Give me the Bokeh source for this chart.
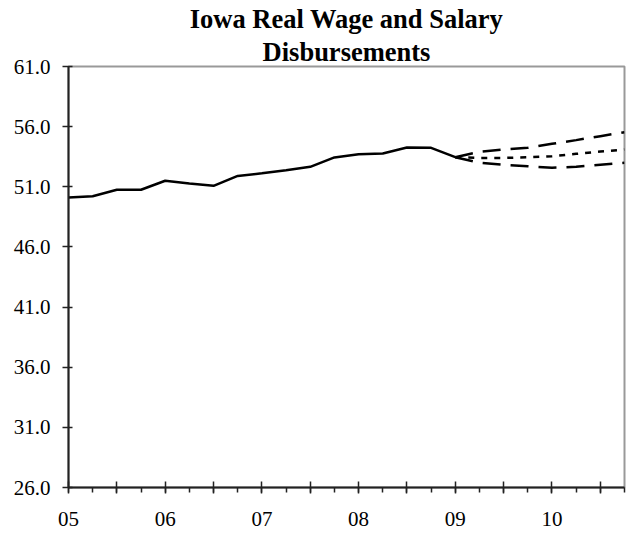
from bokeh.plotting import figure
from bokeh.models import Range1d, FixedTicker, CustomJSTickFormatter, PrintfTickFormatter, Title
from bokeh.embed import file_html
from bokeh.resources import INLINE

# Historical quarters (fractional years) and values
hist_t = [2005.00, 2005.25, 2005.50, 2005.75, 2006.00, 2006.25, 2006.50, 2006.75,
          2007.00, 2007.25, 2007.50, 2007.75, 2008.00, 2008.25, 2008.50, 2008.75, 2009.00]
hist_v = [50.10, 50.22, 50.75, 50.75, 51.50, 51.27, 51.08, 51.90,
          52.12, 52.38, 52.66, 53.44, 53.71, 53.77, 54.27, 54.24, 53.46]

# Forecast quarters and scenarios
fc_t = [2009.00, 2009.25, 2009.50, 2009.75, 2010.00, 2010.25, 2010.50, 2010.75]
fc_high = [53.46, 53.91, 54.10, 54.24, 54.57, 54.88, 55.21, 55.54]
fc_base = [53.46, 53.40, 53.40, 53.46, 53.54, 53.74, 53.93, 54.10]
fc_low = [53.46, 53.00, 52.83, 52.71, 52.58, 52.66, 52.83, 53.00]

y_ticks = [26, 31, 36, 41, 46, 51, 56, 61]
x_major = [2005.0, 2005.5, 2006.0, 2006.5, 2007.0, 2007.5, 2008.0, 2008.5,
           2009.0, 2009.5, 2010.0, 2010.5]
x_minor = [2005.0, 2005.25, 2005.5, 2005.75, 2006.0, 2006.25, 2006.5, 2006.75,
           2007.0, 2007.25, 2007.5, 2007.75, 2008.0, 2008.25, 2008.5, 2008.75,
           2009.0, 2009.25, 2009.5, 2009.75, 2010.0, 2010.25, 2010.5, 2010.75]

title_lines = ["Iowa Real Wage and Salary", "Disbursements"]

SERIF = "Liberation Serif"

p = figure(frame_width=556, frame_height=421, title=None,
           x_range=Range1d(2005.0, 2010.75), y_range=Range1d(26, 61),
           output_backend="svg", toolbar_location=None,
           min_border_left=68, min_border_right=9, min_border_top=40, min_border_bottom=48,
           background_fill_color="white", border_fill_color="white")

# add the lower title line first, then the upper one (stacked outward)
for i, txt in enumerate(reversed(title_lines)):
    t = Title(text=txt, align="center", text_font=SERIF, text_font_size="26.5px",
              text_font_style="bold", text_color="black",
              standoff=(0 if i == 0 else 2), offset=-5)
    p.add_layout(t, "above")

p.outline_line_color = "#999999"
p.outline_line_width = 2
p.xgrid.grid_line_color = None
p.ygrid.grid_line_color = None

# x axis
p.xaxis.ticker = FixedTicker(ticks=x_major, minor_ticks=x_minor)
p.xaxis.formatter = CustomJSTickFormatter(
    code="return Number.isInteger(tick) ? String(tick).slice(2) : '';")
p.xaxis.major_tick_in = 6
p.xaxis.major_tick_out = 6
p.xaxis.minor_tick_in = 0
p.xaxis.minor_tick_out = 5
p.xaxis.major_label_standoff = 18

# y axis
p.yaxis.ticker = FixedTicker(ticks=y_ticks, minor_ticks=[])
p.yaxis.formatter = PrintfTickFormatter(format="%.1f")
p.yaxis.major_tick_in = 4
p.yaxis.major_tick_out = 6
p.yaxis.major_label_standoff = 12

for ax in (p.xaxis, p.yaxis):
    ax.axis_line_color = "#222222"
    ax.axis_line_width = 2
    ax.major_tick_line_color = "#222222"
    ax.major_tick_line_width = 1.5
    ax.minor_tick_line_color = "#222222"
    ax.minor_tick_line_width = 1.5
    ax.major_label_text_font = SERIF
    ax.major_label_text_font_size = "21px"
    ax.major_label_text_color = "black"
p.yaxis.minor_tick_line_color = None

p.line(hist_t, hist_v, line_color="black", line_width=2.5)
p.line(fc_t, fc_high, line_color="black", line_width=2.5, line_dash="18 10")
p.line(fc_t, fc_base, line_color="black", line_width=2.5, line_dash="6 7")
p.line(fc_t, fc_low, line_color="black", line_width=2.5, line_dash="18 10")

open("out.html", "w").write(file_html(p, INLINE))
